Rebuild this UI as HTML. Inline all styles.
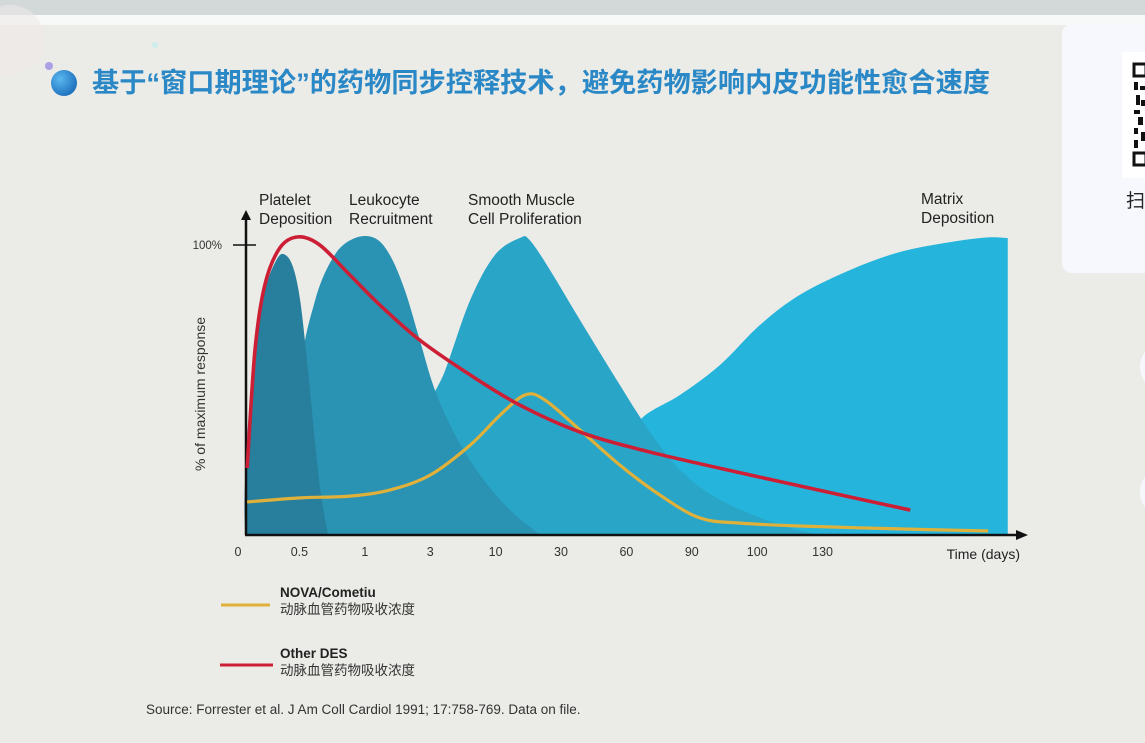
<!DOCTYPE html>
<html><head><meta charset="utf-8"><style>
html,body{margin:0;padding:0;width:1145px;height:743px;overflow:hidden;background:#ebebe7;font-family:"Liberation Sans","Noto Sans CJK SC",sans-serif;}
svg{display:block}
</style></head><body>
<svg id="chart" width="1145" height="743" viewBox="0 0 1145 743" xmlns="http://www.w3.org/2000/svg">
<rect x="0" y="0" width="1145" height="15" fill="#d3d8d8"/>
<rect x="0" y="15" width="1145" height="10" fill="#f7f8f8"/>
<rect x="0" y="25" width="1145" height="718" fill="#ebebe7"/>
<circle cx="10" cy="40" r="35" fill="#eee9e9" opacity="0.6"/>
<circle cx="155" cy="45" r="3" fill="#cdeeee"/>
<circle cx="49" cy="66" r="4" fill="#a9a0e6"/>
<defs><radialGradient id="bg1" cx="0.35" cy="0.35" r="0.7"><stop offset="0" stop-color="#5cb8ef"/><stop offset="1" stop-color="#1c6fbd"/></radialGradient></defs>
<circle cx="64" cy="83" r="13" fill="url(#bg1)"/>
<text x="92" y="92" font-size="27" font-weight="bold" fill="#2a88c6" textLength="898" lengthAdjust="spacingAndGlyphs" font-family="Liberation Sans, Noto Sans CJK SC, sans-serif">基于“窗口期理论”的药物同步控释技术，避免药物影响内皮功能性愈合速度</text>

<g>
<rect x="1062" y="24" width="100" height="249" rx="10" fill="#f6f8fd"/>
<rect x="1122" y="52" width="30" height="126" fill="#ffffff"/>
<rect x="1134" y="64" width="12" height="12" fill="none" stroke="#111" stroke-width="3"/>
<rect x="1134" y="153" width="12" height="12" fill="none" stroke="#111" stroke-width="3"/>
<g fill="#111">
<rect x="1134" y="82" width="4" height="8"/><rect x="1140" y="86" width="5" height="4"/><rect x="1136" y="95" width="4" height="10"/><rect x="1141" y="100" width="4" height="6"/>
<rect x="1134" y="110" width="6" height="4"/><rect x="1138" y="117" width="5" height="8"/><rect x="1134" y="128" width="4" height="6"/><rect x="1141" y="132" width="4" height="9"/><rect x="1134" y="140" width="4" height="8"/>
</g>
<text x="1126" y="207" font-size="19" fill="#222" font-family="Liberation Sans, Noto Sans CJK SC, sans-serif">扫</text>
<circle cx="1165" cy="367" r="25" fill="#f6f8fd"/>
<circle cx="1165" cy="492" r="25" fill="#f6f8fd"/>
</g>

<g id="plot"></g>

<g>
<line x1="221" y1="605" x2="270" y2="605" stroke="#e0b13a" stroke-width="3"/>
<text x="280" y="597" font-size="13.5" font-weight="bold" fill="#222">NOVA/Cometiu</text>
<text x="280" y="614" font-size="13.5" fill="#333" font-family="Liberation Sans, Noto Sans CJK SC, sans-serif">动脉血管药物吸收浓度</text>
<line x1="220" y1="665" x2="273" y2="665" stroke="#cc1f35" stroke-width="3"/>
<text x="280" y="658" font-size="13.5" font-weight="bold" fill="#222">Other DES</text>
<text x="280" y="675" font-size="13.5" fill="#333" font-family="Liberation Sans, Noto Sans CJK SC, sans-serif">动脉血管药物吸收浓度</text>
</g>
<text x="146" y="714" font-size="13.5" fill="#333">Source:  Forrester et al. J Am Coll Cardiol 1991; 17:758-769. Data on file.</text>
</svg>
<script>
const tickLabels = ["0","0.5","1","3","10","30","60","90","100","130"];
const phaseLabels = [["Platelet","Deposition"],["Leukocyte","Recruitment"],["Smooth Muscle","Cell Proliferation"],["Matrix","Deposition"]];
const plateletX = [0.11,0.11,0.26,0.41,0.57,0.69,0.83,0.95,1.07,1.19,1.28,1.38];
const plateletY = [0,19,67.2,84.5,94.1,96.9,93.1,81,56.9,29.3,12.1,0];
const leukoX = [0.95,0.95,1.18,1.48,1.79,2.09,2.32,2.55,2.78,3.01,3.32,3.70,4.16,4.62];
const leukoY = [0,53.4,81,96.6,102.4,102.4,96.6,84.5,67.2,50,34.5,20.7,8.6,0];
const smcX = [2.6,2.86,3.17,3.55,3.93,4.31,4.46,4.77,5.23,5.84,6.30,6.76,7.37,8.29,8.90];
const smcY = [0,39.7,56.9,81,96.6,102.4,101.7,91.4,74.1,51.7,35.5,22.4,12.1,3.4,0];
const matrixX = [5.6,5.84,6.15,6.76,7.37,7.98,8.59,9.36,10.12,10.89,11.45,11.77];
const matrixY = [0,25.9,39.7,48.3,58.6,72.4,82.8,91.4,97.6,101,102.6,102.4];
const redX = [0.14,0.26,0.41,0.64,0.92,1.25,1.71,2.17,2.78,3.55,4.31,5.23,6.30,7.83,9.36,10.28];
const redY = [23.1,63.8,86.2,99.0,102.8,100,89.7,79.3,67.2,55.2,44.8,35.5,28.6,20.7,13.1,8.6];
const yellowX = [0.14,0.95,1.71,2.32,2.94,3.55,4.01,4.39,4.69,5.23,5.84,6.45,7.06,7.68,8.59,10.12,11.47];
const yellowY = [11.4,12.8,13.4,15.5,20.7,31,41.4,48.3,46.6,36.2,24.1,13.8,5.9,4.1,3.1,2.1,1.4];

const X0=238, XSTEP=65.4, Y0=535, YK=2.9;
const sx = i => X0 + i*XSTEP;
const sy = v => Y0 - v*YK;
const NS="http://www.w3.org/2000/svg";
const plot=document.getElementById('plot');
function mk(tag, attrs){const e=document.createElementNS(NS,tag);for(const k in attrs)e.setAttribute(k,attrs[k]);plot.appendChild(e);return e;}
function smooth(pts){
  let d=`M${pts[0][0]},${pts[0][1]}`;
  for(let i=0;i<pts.length-1;i++){
    const p0=pts[i-1]||pts[i],p1=pts[i],p2=pts[i+1],p3=pts[i+2]||p2;
    const c1=[p1[0]+(p2[0]-p0[0])/6,p1[1]+(p2[1]-p0[1])/6];
    const c2=[p2[0]-(p3[0]-p1[0])/6,p2[1]-(p3[1]-p1[1])/6];
    d+=` C${c1[0]},${c1[1]} ${c2[0]},${c2[1]} ${p2[0]},${p2[1]}`;
  }
  return d;
}
function pts(xs,ys){return xs.map((x,i)=>[sx(x),sy(ys[i])]);}
function area(xs,ys,fill,name,closeDown){
  let d=smooth(pts(xs,ys));
  if(closeDown) d+=` L${sx(xs[xs.length-1])},${sy(0)}`;
  const e=mk('path',{d:d+' Z',fill:fill});
  
  
}
area(matrixX,matrixY,'#25b5dc','area-matrix-deposition',true);
area(smcX,smcY,'#29a5c8','area-smooth-muscle');
area(leukoX,leukoY,'#2a92b3','area-leukocyte');
area(plateletX,plateletY,'#287f9d','area-platelet');

const ya=mk('line',{x1:sx(0)+8,y1:Y0,x2:sx(0)+8,y2:218,stroke:'#111','stroke-width':2.5});


const yarrow=mk('path',{d:`M${sx(0)+8},210 L${sx(0)+3},220 L${sx(0)+13},220 Z`,fill:'#111'});


const xa=mk('line',{x1:sx(0)+7,y1:Y0,x2:1018,y2:Y0,stroke:'#111','stroke-width':2.5});


const xarrow=mk('path',{d:`M1028,${Y0} L1016,${Y0-5} L1016,${Y0+5} Z`,fill:'#111'});


const yt=mk('line',{x1:sx(0)-5,y1:sy(100),x2:sx(0)+18,y2:sy(100),stroke:'#111','stroke-width':1.5});


const ytl=mk('text',{x:222,y:sy(100)+4,'font-size':11.5,fill:'#333','text-anchor':'end'});
ytl.textContent='100%';


const ytitle=mk('text',{x:0,y:0,'font-size':14,fill:'#333','text-anchor':'middle',transform:`translate(205,394) rotate(-90)`});
ytitle.textContent='% of maximum response';


tickLabels.forEach((t,i)=>{
  const e=mk('text',{x:sx(i)-(i>0?4:0),y:556,'font-size':12.5,fill:'#333','text-anchor':'middle'});
  e.textContent=t;
  
  
});
const xt=mk('text',{x:1020,y:559,'font-size':14,fill:'#222','text-anchor':'end'});
xt.textContent='Time (days)';


const labelX=[259,349,468,921];
const labelY=[205,205,205,204];
phaseLabels.forEach((ls,k)=>{
  ls.forEach((l,j)=>{
    const e=mk('text',{x:labelX[k],y:labelY[k]+j*19,'font-size':15.5,fill:'#222'});
    e.textContent=l;
    
    
  });
});
const yl=mk('path',{d:smooth(pts(yellowX,yellowY)),fill:'none',stroke:'#e0b13a','stroke-width':3.2,'stroke-linecap':'butt'});


const rl=mk('path',{d:smooth(pts(redX,redY)),fill:'none',stroke:'#cc1f35','stroke-width':3.6,'stroke-linecap':'butt'});


</script>
</body></html>
